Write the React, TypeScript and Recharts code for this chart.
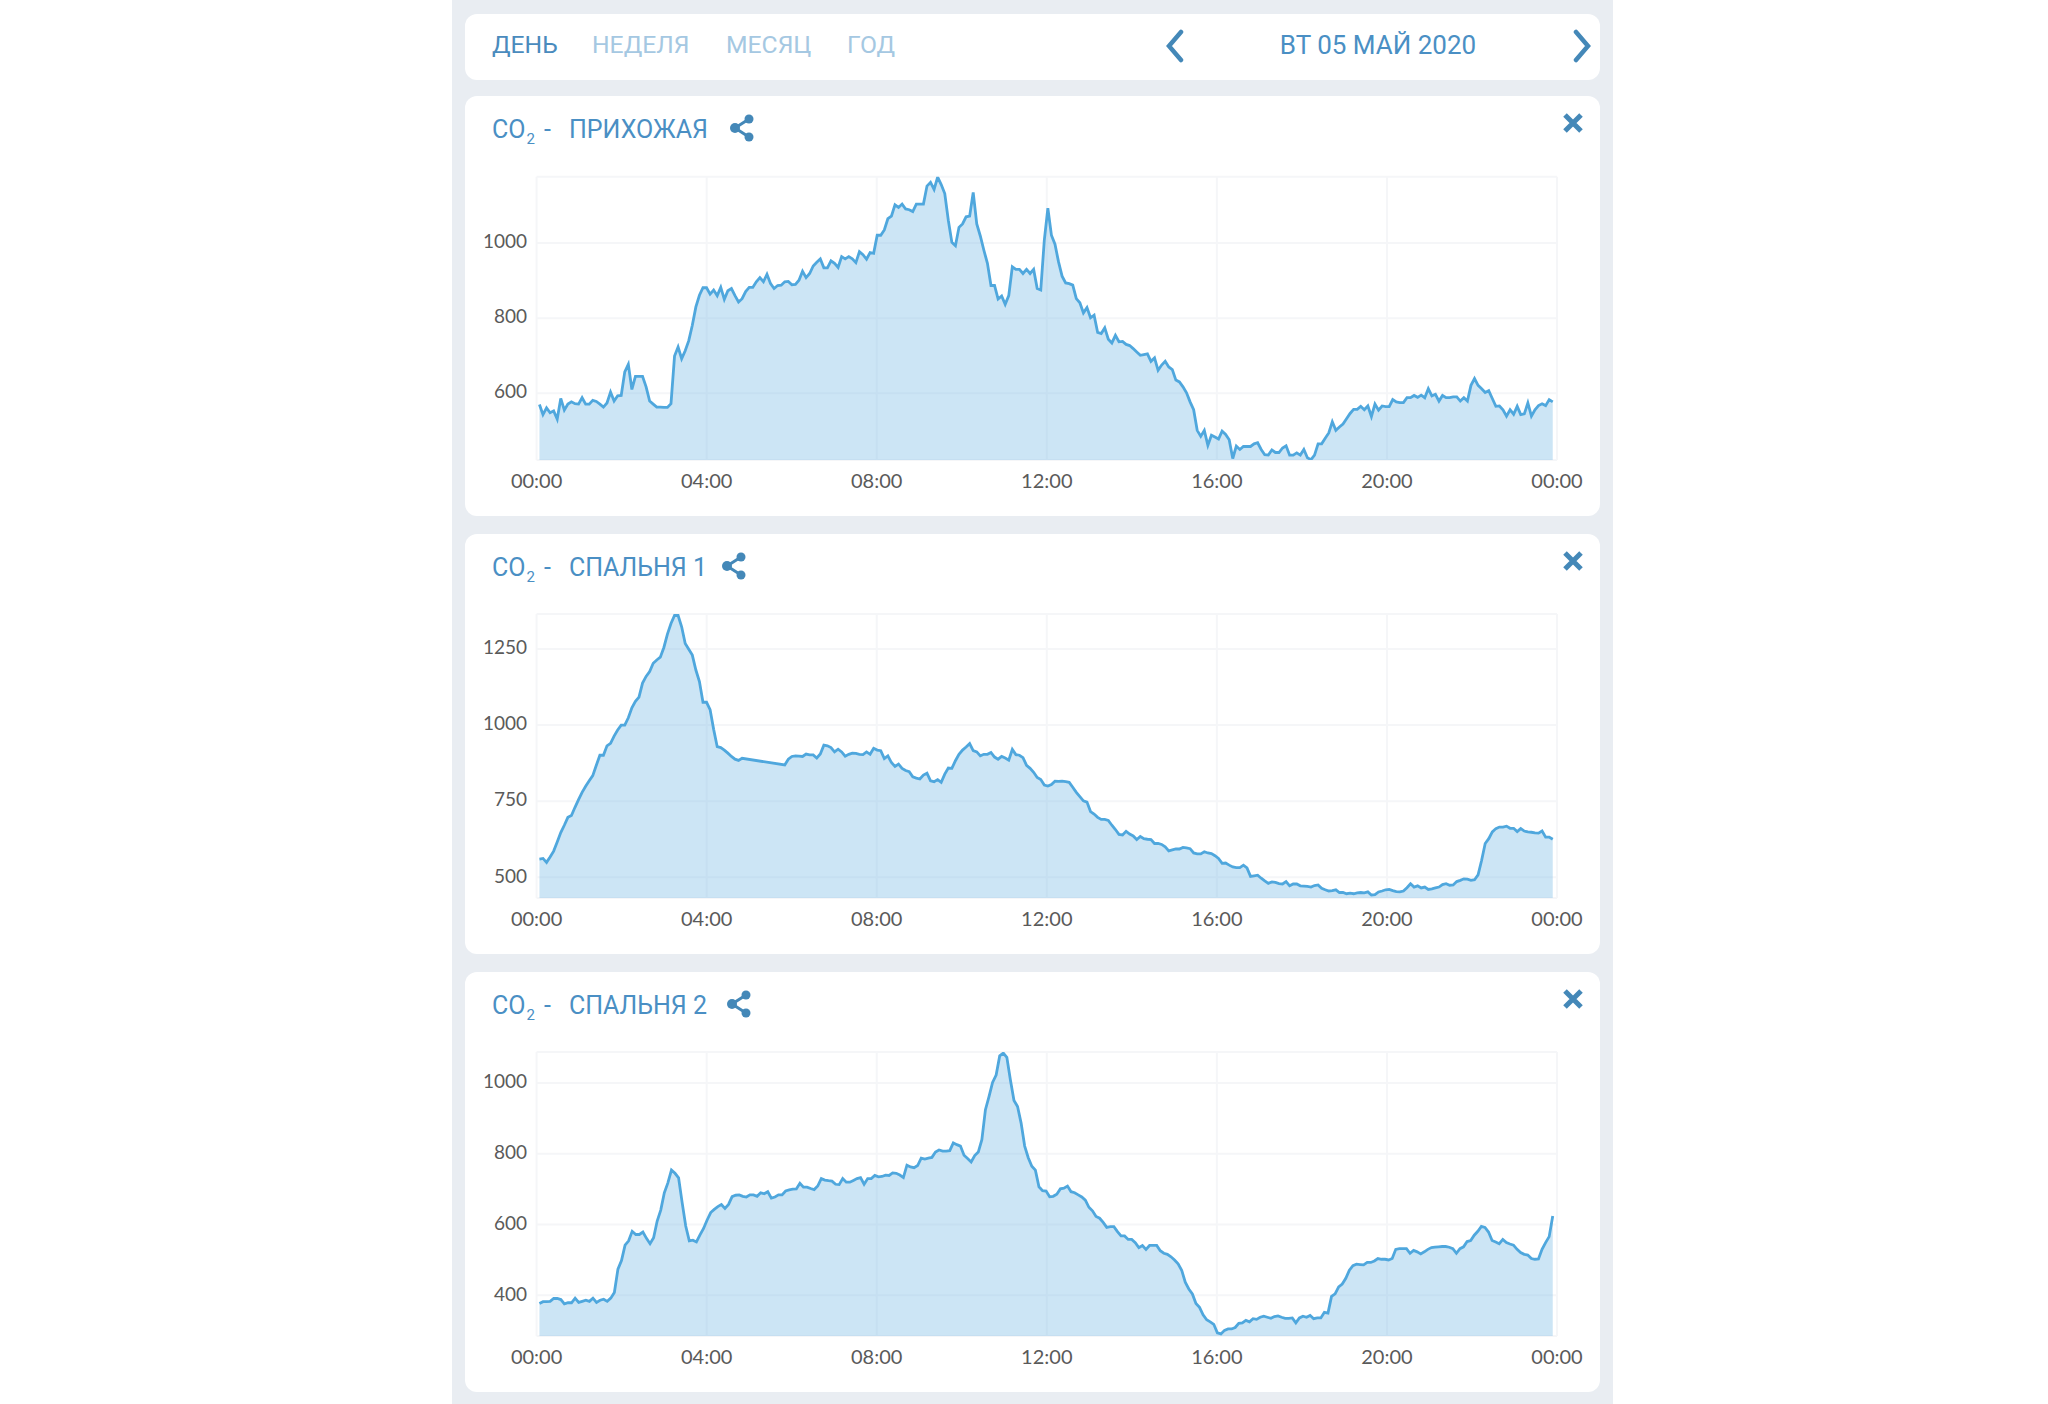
import { Area, AreaChart, CartesianGrid, XAxis, YAxis } from "recharts";

// CO2 readings, one every five minutes or so
const hallwayCo2: number[] = [
  570, 543, 561, 548, 553, 531, 586, 555, 571, 577, 572, 571, 588, 571, 571, 581, 578, 571, 563, 574, 603, 579, 593, 594, 657, 677, 610, 645, 645, 645,
  617, 579, 571, 563, 563, 562, 562, 572, 699, 723, 692, 713, 740, 781, 830, 861, 881, 881, 864, 875, 860, 882, 850, 873, 879, 860, 843, 852, 871, 882,
  882, 897, 908, 897, 917, 892, 879, 887, 888, 897, 898, 889, 890, 901, 925, 908, 919, 939, 949, 958, 934, 934, 953, 946, 935, 964, 958, 964, 958, 948,
  977, 969, 957, 975, 973, 1021, 1021, 1035, 1065, 1072, 1102, 1095, 1104, 1091, 1089, 1084, 1104, 1104, 1104, 1152, 1162, 1143, 1176, 1156, 1132, 1061, 1002, 993, 1042, 1051,
  1070, 1072, 1135, 1051, 1019, 981, 946, 887, 887, 851, 859, 837, 860, 937, 930, 930, 919, 930, 919, 930, 879, 875, 1008, 1093, 1021, 997, 950, 912, 894, 892,
  888, 852, 841, 814, 828, 801, 808, 762, 759, 774, 744, 734, 754, 737, 738, 730, 727, 719, 710, 701, 703, 705, 685, 694, 661, 675, 685, 670, 663, 635,
  630, 617, 601, 577, 556, 501, 485, 501, 461, 488, 483, 478, 499, 490, 476, 426, 459, 450, 458, 458, 458, 465, 468, 450, 436, 435, 449, 442, 442, 454,
  460, 435, 435, 441, 435, 450, 428, 423, 435, 465, 465, 480, 494, 524, 501, 510, 518, 532, 546, 557, 557, 565, 556, 566, 538, 571, 555, 566, 564, 564,
  583, 577, 575, 575, 588, 588, 594, 589, 595, 588, 612, 593, 597, 579, 594, 588, 588, 590, 590, 579, 588, 579, 621, 639, 621, 612, 602, 607, 586, 565,
  566, 556, 539, 556, 544, 565, 543, 545, 574, 539, 556, 567, 572, 567, 583, 577,
];

// the nulls are the stretch with no samples, the line just runs straight across it
const bedroom1Co2: (number | null)[] = [
  560, 562, 549, 567, 586, 616, 647, 671, 697, 703, 730, 755, 779, 799, 817, 834, 868, 901, 901, 932, 940, 964, 984, 1000, 1000, 1024, 1057, 1078, 1092, 1138,
  1160, 1176, 1203, 1214, 1223, 1255, 1299, 1334, 1360, 1360, 1323, 1268, 1249, 1230, 1181, 1143, 1075, 1075, 1051, 986, 929, 926, 918, 908, 897, 888, 884, 891,
  null, null, null, null, null, null, null, null, null, null, null,
  869, 888, 897, 899, 898, 897, 905, 902, 902, 892, 905, 934, 932, 926, 912, 921, 912, 898, 904, 908, 907, 904, 903, 912, 904, 924, 918, 916, 890, 899, 877,
  864, 872, 858, 851, 847, 830, 826, 823, 836, 842, 817, 814, 821, 812, 839, 859, 858, 883, 904, 918, 928, 939, 916, 912, 899, 904, 904, 910, 895, 888,
  897, 892, 885, 920, 903, 901, 893, 868, 858, 845, 828, 821, 803, 800, 805, 816, 815, 816, 814, 812, 796, 779, 765, 751, 747, 716, 708, 697, 690, 690,
  687, 671, 657, 641, 639, 651, 642, 636, 624, 634, 627, 625, 624, 611, 611, 608, 600, 587, 590, 593, 593, 598, 597, 594, 580, 577, 577, 584, 580, 578,
  571, 562, 546, 547, 540, 534, 532, 532, 540, 531, 503, 505, 507, 497, 488, 480, 485, 483, 479, 478, 486, 472, 478, 478, 472, 471, 470, 468, 473, 475,
  464, 459, 455, 456, 459, 450, 450, 446, 448, 446, 449, 450, 449, 452, 442, 443, 452, 455, 459, 460, 456, 453, 452, 455, 466, 479, 468, 472, 465, 468,
  460, 462, 465, 468, 476, 479, 474, 475, 486, 490, 495, 494, 490, 492, 508, 556, 611, 627, 649, 660, 665, 665, 668, 661, 661, 650, 660, 652, 649, 648,
  646, 645, 652, 632, 632, 625,
];

const bedroom2Co2: number[] = [
  377, 382, 382, 383, 391, 391, 388, 376, 379, 379, 392, 380, 383, 386, 383, 392, 380, 386, 389, 383, 392, 408, 474, 498, 542, 554, 581, 572, 572, 579,
  561, 546, 563, 610, 641, 690, 718, 754, 745, 732, 662, 596, 554, 556, 551, 571, 589, 613, 634, 643, 651, 657, 646, 657, 679, 683, 684, 680, 678, 684,
  684, 680, 690, 687, 693, 675, 678, 684, 684, 695, 698, 700, 701, 717, 706, 706, 702, 699, 709, 730, 726, 724, 723, 714, 713, 730, 720, 720, 725, 730,
  733, 714, 730, 730, 739, 735, 736, 740, 739, 746, 745, 740, 733, 768, 763, 761, 767, 788, 785, 788, 790, 805, 811, 808, 808, 809, 831, 826, 822, 796,
  787, 777, 795, 805, 840, 925, 962, 1002, 1023, 1077, 1085, 1073, 1009, 951, 934, 887, 822, 789, 765, 754, 707, 696, 695, 679, 680, 686, 701, 703, 709, 693,
  690, 684, 678, 669, 649, 639, 623, 618, 606, 592, 594, 594, 580, 568, 568, 558, 558, 549, 535, 541, 530, 541, 541, 541, 526, 519, 516, 509, 500, 489,
  471, 437, 418, 404, 377, 366, 345, 331, 325, 318, 294, 291, 301, 305, 305, 309, 321, 322, 329, 325, 334, 332, 338, 341, 338, 335, 340, 342, 338, 335,
  335, 336, 322, 336, 341, 338, 343, 334, 336, 336, 352, 350, 397, 404, 424, 432, 448, 471, 484, 488, 487, 486, 493, 493, 497, 504, 502, 502, 500, 504,
  530, 532, 532, 532, 519, 527, 523, 517, 523, 530, 535, 536, 537, 538, 538, 536, 532, 519, 532, 537, 552, 555, 570, 581, 595, 592, 579, 555, 551, 546,
  558, 549, 545, 542, 530, 521, 516, 514, 504, 502, 503, 530, 549, 566, 624,
];

const xTicks = [0, 240, 480, 720, 960, 1200, 1440];
const xTickLabels = ["00:00", "04:00", "08:00", "12:00", "16:00", "20:00", "00:00"];
const periods = ["ДЕНЬ", "НЕДЕЛЯ", "МЕСЯЦ", "ГОД"];

const LINE = "#4fa7dd";
const FILL = "#7fbde6";
const GRID = "#f5f6f8";
const TITLE = "#4a8fc4";
const ICON = "#4488b8";
const FONT = "Roboto, sans-serif";
const X_TICK_STYLE = { fontFamily: "Lato, sans-serif", fontSize: 20, fontWeight: 400, fill: "#5a5a5a" };
const Y_TICK_STYLE = { ...X_TICK_STYLE, fontSize: 19 };

function toRows(values: (number | null)[]) {
  const step = 1430 / (values.length - 1);
  return values
    .map((co2, i) => ({ minute: 4 + i * step, co2 }))
    .filter((row) => row.co2 !== null);
}

type CardProps = {
  top: number;
  room: string;
  shareX: number;
  plotTop: number;
  values: (number | null)[];
  domain: [number, number];
  yTicks: number[];
};

function Card({ top, room, shareX, plotTop, values, domain, yTicks }: CardProps) {
  return (
    <div
      style={{
        position: "absolute",
        left: 465,
        top,
        width: 1135,
        height: 420,
        background: "#fff",
        borderRadius: 12,
      }}
    >
      <div
        style={{
          position: "absolute",
          left: 27,
          top: 18,
          fontFamily: FONT,
          fontSize: 25,
          lineHeight: "32px",
          color: TITLE,
          whiteSpace: "nowrap",
        }}
      >
        CO<sub style={{ fontSize: 15, lineHeight: 0, marginLeft: 1, marginRight: 3 }}>2</sub> -
        <span style={{ position: "absolute", left: 77 }}>{room}</span>
      </div>
      <svg
        width={26}
        height={28}
        viewBox="0 0 26 28"
        style={{ position: "absolute", left: shareX - 465 - 13, top: 18 }}
      >
        <path d="M20 5 L6 14 L20 23" fill="none" stroke={ICON} strokeWidth={3} />
        <circle cx={20} cy={5} r={4.5} fill={ICON} />
        <circle cx={6} cy={14} r={5} fill={ICON} />
        <circle cx={20} cy={23} r={4.5} fill={ICON} />
      </svg>
      <svg width={22} height={22} viewBox="0 0 22 22" style={{ position: "absolute", left: 1097, top: 16 }}>
        <path d="M3 3 L19 19 M19 3 L3 19" stroke={ICON} strokeWidth={5} />
      </svg>
      <div style={{ position: "absolute", left: 0, top: 0 }}>
        <AreaChart
          width={1135}
          height={420}
          data={toRows(values)}
          margin={{ left: 11.6, right: 43, top: plotTop - top, bottom: 16 }}
        >
          <CartesianGrid stroke={GRID} strokeWidth={2} />
          <XAxis
            dataKey="minute"
            type="number"
            domain={[0, 1440]}
            ticks={xTicks}
            interval={0}
            height={40}
            axisLine={false}
            tickLine={false}
            tickSize={0}
            tickMargin={14}
            tickFormatter={(_v, i) => xTickLabels[i]}
            tick={X_TICK_STYLE}
          />
          <YAxis
            domain={domain}
            ticks={yTicks}
            allowDataOverflow
            interval={0}
            width={60}
            axisLine={false}
            tickLine={false}
            tickSize={0}
            tickMargin={9.5}
            dy={-1.5}
            tick={Y_TICK_STYLE}
          />
          <Area
            type="linear"
            dataKey="co2"
            stroke={LINE}
            strokeWidth={2.8}
            fill={FILL}
            fillOpacity={0.4}
            dot={false}
            activeDot={false}
            isAnimationActive={false}
          />
        </AreaChart>
      </div>
    </div>
  );
}

export default function App() {
  const periodLeft = [27, 127, 261, 382];
  return (
    <div
      style={{
        position: "absolute",
        left: 0,
        top: 0,
        width: 2048,
        height: 1404,
        background: "#fff",
        overflow: "hidden",
      }}
    >
      <div style={{ position: "absolute", left: 452, top: 0, width: 1161, height: 1404, background: "#e9edf2" }} />

      {/* period and date bar */}
      <div
        style={{
          position: "absolute",
          left: 465,
          top: 14,
          width: 1135,
          height: 66,
          background: "#fff",
          borderRadius: 12,
          fontFamily: FONT,
          fontSize: 24.7,
          lineHeight: "32px",
        }}
      >
        {periods.map((p, i) => (
          <span
            key={p}
            style={{ position: "absolute", left: periodLeft[i], top: 15, color: i === 0 ? "#4a8bbd" : "#a5c8e2" }}
          >
            {p}
          </span>
        ))}
        <span
          style={{ position: "absolute", left: 713, width: 400, textAlign: "center", top: 15, color: TITLE, fontSize: 26 }}
        >
          ВТ 05 МАЙ 2020
        </span>
        <svg width={24} height={34} viewBox="0 0 24 34" style={{ position: "absolute", left: 698, top: 15 }}>
          <path d="M18 3 L6 17 L18 31" fill="none" stroke={ICON} strokeWidth={4.5} strokeLinecap="round" />
        </svg>
        <svg width={24} height={34} viewBox="0 0 24 34" style={{ position: "absolute", left: 1105, top: 15 }}>
          <path d="M6 3 L18 17 L6 31" fill="none" stroke={ICON} strokeWidth={4.5} strokeLinecap="round" />
        </svg>
      </div>

      <Card
        top={96}
        room="ПРИХОЖАЯ"
        shareX={742}
        plotTop={176.7}
        values={hallwayCo2}
        domain={[422, 1177]}
        yTicks={[600, 800, 1000]}
      />
      <Card
        top={534}
        room="СПАЛЬНЯ 1"
        shareX={733.5}
        plotTop={614}
        values={bedroom1Co2}
        domain={[432, 1365]}
        yTicks={[500, 750, 1000, 1250]}
      />
      <Card
        top={972}
        room="СПАЛЬНЯ 2"
        shareX={739}
        plotTop={1052}
        values={bedroom2Co2}
        domain={[285, 1088]}
        yTicks={[400, 600, 800, 1000]}
      />
    </div>
  );
}
